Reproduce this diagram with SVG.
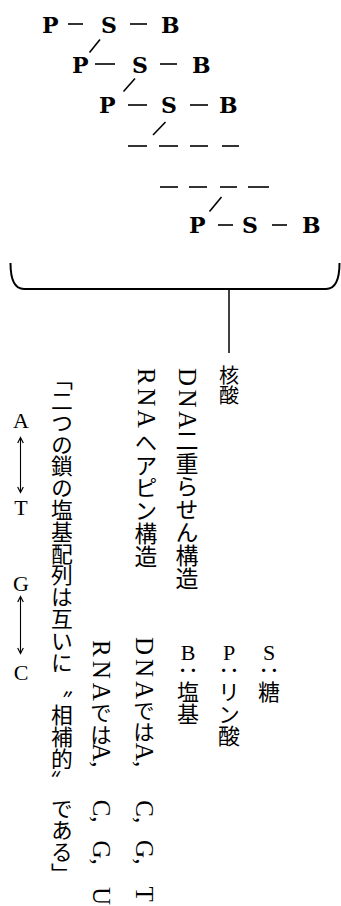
<svg xmlns="http://www.w3.org/2000/svg" width="341" height="906" viewBox="0 0 341 906">
<style>
.b{font-family:"DejaVu Serif","Liberation Serif",serif;font-weight:bold;font-size:22px;fill:#000}
.ln{stroke:#000;stroke-width:1.6;fill:none}
.v{writing-mode:vertical-rl;font-family:"Liberation Serif","Noto Sans CJK JP",sans-serif;fill:#000}
.jp{font-family:"Noto Sans CJK JP",sans-serif}
.lt{font-family:"Liberation Serif",serif;font-size:25px}
.up{text-orientation:upright}
.h{font-family:"Liberation Serif",serif;font-size:22px;fill:#000;text-anchor:middle}
</style>
<defs>
<marker id="ah" markerWidth="8" markerHeight="8" refX="6" refY="4" orient="auto-start-reverse" markerUnits="userSpaceOnUse">
<path d="M1,1.2 L6.5,4 L1,6.8" fill="none" stroke="#000" stroke-width="1.2"/>
</marker>
</defs>
<rect width="341" height="906" fill="#fff"/>
<g id="row1"><text class="b" x="42" y="33">P</text><text class="b" x="101" y="33">S</text><text class="b" x="161" y="33">B</text></g>
<g id="row2"><text class="b" x="72" y="73">P</text><text class="b" x="132" y="73">S</text><text class="b" x="192" y="73">B</text></g>
<g id="row3"><text class="b" x="99" y="113">P</text><text class="b" x="161" y="113">S</text><text class="b" x="219" y="113">B</text></g>
<g id="row4"><text class="b" x="189" y="233">P</text><text class="b" x="242" y="233">S</text><text class="b" x="302" y="233">B</text></g>
<g id="connectors" class="ln">
<line x1="68" y1="24" x2="83" y2="24"/><line x1="130" y1="24" x2="147" y2="24"/>
<line x1="95" y1="64" x2="115" y2="64"/><line x1="160" y1="64" x2="177" y2="64"/>
<line x1="128" y1="105" x2="147" y2="105"/><line x1="190" y1="105" x2="208" y2="105"/>
<line x1="218" y1="225" x2="233" y2="225"/><line x1="272" y1="225" x2="287" y2="225"/>
<line x1="100" y1="39.5" x2="89.5" y2="52.5"/>
<line x1="135" y1="78.5" x2="123.5" y2="91.5"/>
<line x1="165.5" y1="122" x2="153" y2="135"/>
<line x1="221.5" y1="197" x2="209.5" y2="211.5"/>
<line x1="128" y1="146" x2="147" y2="146"/><line x1="159" y1="146" x2="178" y2="146"/><line x1="190" y1="146" x2="208" y2="146"/><line x1="222" y1="146" x2="239" y2="146"/>
<line x1="160" y1="187" x2="178" y2="187"/><line x1="189" y1="187" x2="207" y2="187"/><line x1="220" y1="187" x2="237" y2="187"/><line x1="248" y1="187" x2="269" y2="187"/>
<path d="M10.5,263 Q10.5,289 24,289 L326,289 Q339.5,289 339.5,263" stroke-width="2"/>
<line x1="229" y1="289" x2="229" y2="353" stroke-width="1.5"/>
<line x1="20.5" y1="438" x2="20.5" y2="492" stroke-width="1.1" marker-start="url(#ah)" marker-end="url(#ah)"/>
<line x1="20.5" y1="597" x2="20.5" y2="653" stroke-width="1.1" marker-start="url(#ah)" marker-end="url(#ah)"/>
</g>
<g id="kakusan"><text class="v jp" x="229" y="365" font-size="20">核酸</text></g>
<g id="dna2"><text class="v" x="187" y="368"><tspan class="lt" letter-spacing="3.5">DNA</tspan><tspan class="jp" y="428" font-size="23">二重らせん構造</tspan></text></g>
<g id="rna-hp"><text class="v" x="146" y="368"><tspan class="lt" letter-spacing="3.5">RNA</tspan><tspan class="jp" y="431" font-size="22.8">ヘアピン構造</tspan></text></g>
<g id="hosyu"><text class="v jp" x="62" y="368" font-size="21.8"><tspan>「二つの鎖の塩基配列は互いに</tspan><tspan y="676">〝</tspan><tspan y="704">相補的</tspan><tspan y="770">〟</tspan><tspan y="797.6">である」</tspan></text></g>
<g id="pairs"><text class="h" x="21" y="428">A</text><text class="h" x="21" y="515">T</text><text class="h" x="21" y="591">G</text><text class="h" x="21" y="680">C</text></g>
<g id="s-label"><text class="v up" x="269" y="640" font-size="22"><tspan>S</tspan><tspan class="jp" y="659">：</tspan><tspan class="jp" y="681">糖</tspan></text></g>
<g id="p-label"><text class="v up" x="229" y="640" font-size="22"><tspan>P</tspan><tspan class="jp" y="659">：</tspan><tspan class="jp" y="681">リン酸</tspan></text></g>
<g id="b-label"><text class="v up" x="188" y="640" font-size="22"><tspan>B</tspan><tspan class="jp" y="659">：</tspan><tspan class="jp" y="681">塩基</tspan></text></g>
<g id="dna-base"><text class="v" x="144" y="637"><tspan class="lt" font-size="24" letter-spacing="4">DNA</tspan><tspan class="jp" y="700" font-size="21.5">では</tspan><tspan class="lt" font-size="24" y="743">A, </tspan><tspan class="lt" font-size="24" y="800">C, </tspan><tspan class="lt" font-size="24" y="840">G, </tspan><tspan class="lt" font-size="24" y="887">T</tspan></text></g>
<g id="rna-base"><text class="v" x="101" y="640"><tspan class="lt" font-size="24" letter-spacing="4">RNA</tspan><tspan class="jp" y="702" font-size="21.5">では</tspan><tspan class="lt" font-size="24" y="743">A, </tspan><tspan class="lt" font-size="24" y="800">C, </tspan><tspan class="lt" font-size="24" y="840">G, </tspan><tspan class="lt" font-size="24" y="887">U</tspan></text></g>
</svg>
